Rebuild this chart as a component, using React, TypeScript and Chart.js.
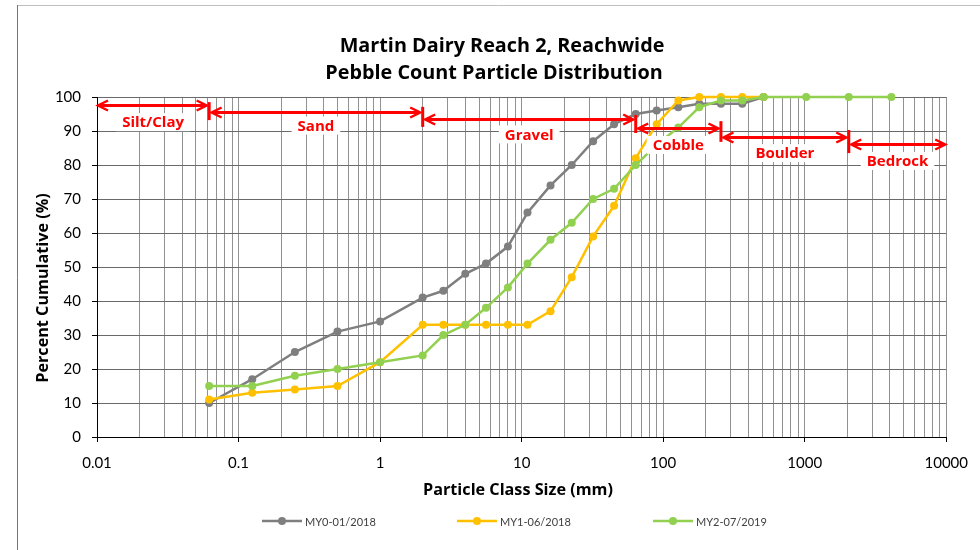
import React, { useEffect, useRef } from 'react';
import { Chart, registerables } from 'chart.js';

Chart.register(...registerables);

// ---------- data ----------
const particleSizes = [0.062, 0.125, 0.25, 0.5, 1, 2, 2.8, 4, 5.6, 8, 11, 16, 22.6, 32, 45, 64, 90, 128, 180, 256, 362, 512, 1024, 2048, 4096];
const seriesNames = ['MY0-01/2018', 'MY1-06/2018', 'MY2-07/2019'];
const my0Values = [10, 17, 25, 31, 34, 41, 43, 48, 51, 56, 66, 74, 80, 87, 92, 95, 96, 97, 98, 98, 98, 100];
const my1Values = [11, 13, 14, 15, 22, 33, 33, 33, 33, 33, 33, 37, 47, 59, 68, 82, 92, 99, 100, 100, 100, 100];
const my2Values = [15, 15, 18, 20, 22, 24, 30, 33, 38, 44, 51, 58, 63, 70, 73, 80, 86, 91, 97, 99, 99, 100, 100, 100, 100];
const xTickLabels = ['0.01', '0.1', '1', '10', '100', '1000', '10000'];
const minorMultipliers = [1, 2, 3, 4, 5, 6, 7, 8, 9];
const classNames = ['Silt/Clay', 'Sand', 'Gravel', 'Cobble', 'Boulder', 'Bedrock'];
const classBounds = [0.01, 0.062, 2, 64, 256, 2048, 10000];

const titleLines = ['Martin Dairy Reach 2, Reachwide', 'Pebble Count Particle Distribution'];
const xTitle = 'Particle Class Size (mm)';
const yTitle = 'Percent Cumulative (%)';

// ---------- styles / placement ----------
const FONT = 'Lato, "Open Sans", sans-serif';
const BOLD_FONT = '"Open Sans", Lato, sans-serif';
const COLORS = ['#7f7f7f', '#ffc000', '#92d050'];
const RED = '#ff0000';
const classArrowY = [97.6, 95.6, 93.5, 90.9, 88.2, 86.2];
const classLabelY = [92.6, 91.6, 89.0, 85.9, 83.5, 81.2];
const boundaryBarTop = [98.5, 97.1, 94.7, 92.9, 90.3];
const boundaryBarBottom = [93.2, 91.2, 89.4, 86.8, 83.5];
const legendLineX = [262, 457, 653];

const xTickValues: number[] = [];
for (let e = -2; e < 4; e++) {
  for (const m of minorMultipliers) xTickValues.push(parseFloat((m * Math.pow(10, e)).toPrecision(6)));
}
xTickValues.push(10000);

const isPow10 = (v: number) => Math.abs(Math.log10(v) - Math.round(Math.log10(v))) < 1e-9;

const toPoints = (vals: number[]) => vals.map((v, i) => ({ x: particleSizes[i], y: v }));

// font size so that text spans the given width
const fitSize = (ctx: CanvasRenderingContext2D, text: string, width: number, family: string) => {
  ctx.font = `bold 20px ${family}`;
  const w = ctx.measureText(text).width;
  return (20 * width) / w;
};

const classesPlugin = {
  id: 'classes',
  afterDatasetsDraw(chart: any) {
    const { ctx } = chart;
    const xs = chart.scales.x;
    const ys = chart.scales.y;
    ctx.save();
    ctx.strokeStyle = RED;
    ctx.fillStyle = RED;
    ctx.lineCap = 'butt';
    for (let i = 0; i < classNames.length; i++) {
      const x1 = xs.getPixelForValue(classBounds[i]) + (i === 0 ? 1 : 2.5);
      const x2 = xs.getPixelForValue(classBounds[i + 1]) - (i === classNames.length - 1 ? 1 : 2.5);
      const yy = Math.round(ys.getPixelForValue(classArrowY[i])) + 0.5;
      ctx.lineWidth = 3;
      ctx.beginPath();
      ctx.moveTo(x1 + 1, yy);
      ctx.lineTo(x2 - 1, yy);
      ctx.stroke();
      ctx.lineWidth = 2.5;
      ctx.beginPath();
      ctx.moveTo(x1 + 10, yy - 5);
      ctx.lineTo(x1, yy);
      ctx.lineTo(x1 + 10, yy + 5);
      ctx.moveTo(x2 - 10, yy - 5);
      ctx.lineTo(x2, yy);
      ctx.lineTo(x2 - 10, yy + 5);
      ctx.stroke();
    }
    ctx.lineWidth = 3;
    for (let i = 0; i < boundaryBarTop.length; i++) {
      const bx = xs.getPixelForValue(classBounds[i + 1]);
      ctx.beginPath();
      ctx.moveTo(bx, ys.getPixelForValue(boundaryBarTop[i]));
      ctx.lineTo(bx, ys.getPixelForValue(boundaryBarBottom[i]));
      ctx.stroke();
    }
    ctx.font = `bold 15px ${BOLD_FONT}`;
    ctx.textAlign = 'center';
    ctx.textBaseline = 'middle';
    for (let i = 0; i < classNames.length; i++) {
      const lx = xs.getPixelForValue(Math.sqrt(classBounds[i] * classBounds[i + 1]));
      const ly = ys.getPixelForValue(classLabelY[i]);
      const w = ctx.measureText(classNames[i]).width + 12;
      ctx.fillStyle = '#ffffff';
      ctx.fillRect(lx - w / 2, ly - 9, w, 18);
      ctx.fillStyle = RED;
      ctx.fillText(classNames[i], lx, ly + 1);
    }
    ctx.restore();
  },
};

const framePlugin = {
  id: 'frame',
  afterDraw(chart: any) {
    const { ctx } = chart;
    ctx.save();
    ctx.lineWidth = 1;
    ctx.strokeStyle = '#bfbfbf';
    ctx.beginPath();
    ctx.moveTo(17, 5.5);
    ctx.lineTo(980, 5.5);
    ctx.stroke();
    ctx.strokeStyle = '#767676';
    ctx.beginPath();
    ctx.moveTo(17.5, 5);
    ctx.lineTo(17.5, 550);
    ctx.stroke();

    ctx.fillStyle = '#000';
    ctx.textAlign = 'center';
    ctx.textBaseline = 'middle';
    const tSize = fitSize(ctx, titleLines[0], 325, BOLD_FONT);
    ctx.font = `bold ${tSize}px ${BOLD_FONT}`;
    ctx.fillText(titleLines[0], 502, 46);
    ctx.fillText(titleLines[1], 494, 73);

    const aSize = fitSize(ctx, xTitle, 190, BOLD_FONT);
    ctx.font = `bold ${aSize}px ${BOLD_FONT}`;
    ctx.fillText(xTitle, 518, 490);
    ctx.save();
    ctx.translate(43, 288);
    ctx.rotate(-Math.PI / 2);
    ctx.fillText(yTitle, 0, 0);
    ctx.restore();

    ctx.font = `11px ${FONT}`;
    ctx.textAlign = 'left';
    for (let i = 0; i < seriesNames.length; i++) {
      const x0 = legendLineX[i];
      const ly = 521;
      ctx.strokeStyle = COLORS[i];
      ctx.lineWidth = 2.5;
      ctx.beginPath();
      ctx.moveTo(x0, ly);
      ctx.lineTo(x0 + 40, ly);
      ctx.stroke();
      ctx.fillStyle = COLORS[i];
      ctx.beginPath();
      ctx.arc(x0 + 20, ly, 4, 0, Math.PI * 2);
      ctx.fill();
      ctx.fillStyle = '#404040';
      ctx.fillText(seriesNames[i], x0 + 43, ly + 1);
    }
    ctx.restore();
  },
};

export default function App() {
  const ref = useRef<HTMLCanvasElement>(null);
  useEffect(() => {
    if (!ref.current) return;
    const seriesValues = [my0Values, my1Values, my2Values];
    const chart = new Chart(ref.current, {
      type: 'scatter',
      data: {
        datasets: seriesNames.map((name, i) => ({
          label: name,
          data: toPoints(seriesValues[i]),
          showLine: true,
          borderColor: COLORS[i],
          backgroundColor: COLORS[i],
          borderWidth: 2.5,
          pointRadius: 4,
          pointBorderWidth: 0,
          pointHoverRadius: 4,
          order: 3 - i,
          clip: false as any,
          tension: 0,
        })),
      },
      options: {
        responsive: false,
        animation: false,
        devicePixelRatio: 1,
        events: [],
        layout: { padding: { top: 97, right: 33, bottom: 0, left: 0 }, autoPadding: false },
        plugins: {
          legend: { display: false },
          title: { display: false },
          tooltip: { enabled: false },
        },
        scales: {
          x: {
            type: 'logarithmic',
            min: 0.01,
            max: 10000,
            afterBuildTicks: (s: any) => {
              s.ticks = xTickValues.map((v) => ({ value: v, major: isPow10(v) }));
            },
            afterFit: (s: any) => {
              s.height = 113;
            },
            ticks: {
              autoSkip: false,
              maxRotation: 0,
              minRotation: 0,
              padding: 12,
              color: '#000',
              font: { family: FONT, size: 15 },
              callback: (val: any) => {
                const v = Number(val);
                if (!isPow10(v)) return '';
                return xTickLabels[Math.round(Math.log10(v)) + 2];
              },
            },
            grid: {
              color: '#929292',
              lineWidth: 1,
              tickLength: 5,
              tickColor: (c: any) => (c.tick && isPow10(c.tick.value) ? '#000' : 'rgba(0,0,0,0)'),
            },
            border: { color: '#000', width: 1 },
          },
          y: {
            min: 0,
            max: 100,
            afterFit: (s: any) => {
              s.width = 97;
            },
            ticks: {
              stepSize: 10,
              padding: 11,
              color: '#000',
              font: { family: FONT, size: 15 },
            },
            grid: {
              color: '#6a6a6a',
              lineWidth: 1,
              tickLength: 5,
              tickColor: '#000',
            },
            border: { color: '#000', width: 1 },
          },
        },
      } as any,
      plugins: [classesPlugin, framePlugin],
    });
    return () => chart.destroy();
  }, []);
  return (
    <div style={{ position: 'absolute', left: 0, top: 0, width: 980, height: 550, background: '#fff' }}>
      <canvas ref={ref} width={980} height={550} style={{ display: 'block', width: 980, height: 550 }} />
    </div>
  );
}
